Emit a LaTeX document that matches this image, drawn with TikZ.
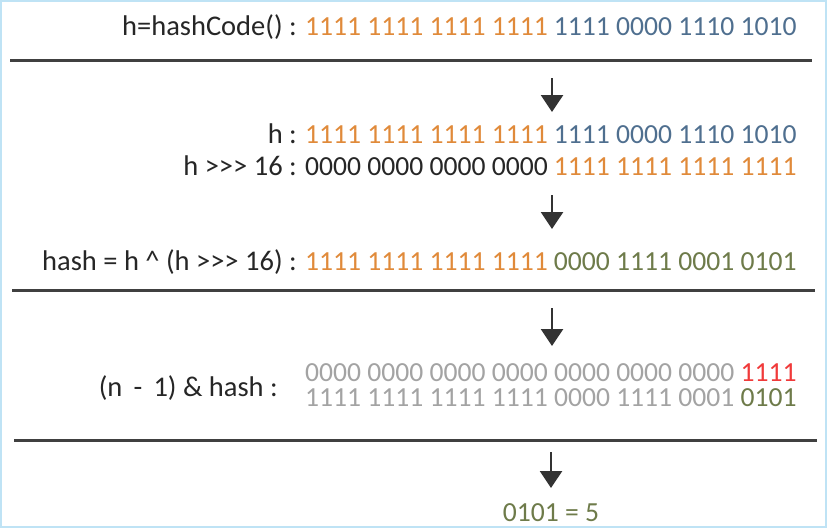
\documentclass[tikz,border=0pt]{standalone}
\usepackage{fontspec}
\setmainfont{Carlito}
\usepackage{xcolor}
\usetikzlibrary{arrows.meta}

\definecolor{hiorange}{HTML}{E08A3A}
\definecolor{loblue}{HTML}{4F6F8F}
\definecolor{xorgreen}{HTML}{6E7B4A}
\definecolor{maskred}{HTML}{F03A3A}
\definecolor{maskgray}{HTML}{A3A3A3}
\definecolor{framebl}{HTML}{BFE3F5}

\newcommand{\bitfont}{\fontsize{27.6}{32}\selectfont}
\newcommand{\lblfont}{\fontsize{28.5}{33}\selectfont}

\tikzset{
    lbl/.style={anchor=base east, inner sep=0pt, font=\lblfont, text=black!85},
    bits/.style={anchor=base west, inner sep=0pt, font=\bitfont},
    rule/.style={line width=3pt, draw=black!75},
    down/.style={-{Triangle[length=17pt,width=22pt]}, line width=2.6pt, draw=black!80}
}

\begin{document}
\begin{tikzpicture}[x=1pt, y=-1pt]
    \useasboundingbox (0,0) rectangle (827,528);
    \draw[framebl, line width=2pt] (1,1) rectangle (826,527);

    % Nodes
    \node[lbl] (hcL) at (297,35) {h=hashCode() :};
    \node[bits] (hcB) at (305,35) {\textcolor{hiorange}{1111 1111 1111 1111} \textcolor{loblue}{1111 0000 1110 1010}};

    \node[lbl] (hL) at (297,143) {h :};
    \node[bits] (hB) at (305,143) {\textcolor{hiorange}{1111 1111 1111 1111} \textcolor{loblue}{1111 0000 1110 1010}};
    \node[lbl] (shL) at (297,175) {h >{}>{}> 16 :};
    \node[bits] (shB) at (305,175) {\textcolor{black!85}{0000 0000 0000 0000} \textcolor{hiorange}{1111 1111 1111 1111}};

    \node[lbl] (xL) at (297,270) {hash = h \^{} (h >{}>{}> 16) :};
    \node[bits] (xB) at (305,270) {\textcolor{hiorange}{1111 1111 1111 1111} \textcolor{xorgreen}{0000 1111 0001 0101}};

    \node[lbl] (mL) at (278,396) {(n \,-\, 1) \& hash :};
    \node[bits] (mB1) at (305,381) {\textcolor{maskgray}{0000 0000 0000 0000 0000 0000 0000} \textcolor{maskred}{1111}};
    \node[bits] (mB2) at (305,406) {\textcolor{maskgray}{1111 1111 1111 1111 0000 1111 0001} \textcolor{xorgreen}{0101}};

    \node[anchor=base, inner sep=0pt, font=\bitfont, text=xorgreen] (res) at (551,521) {0101 = 5};

    % Rules
    \coordinate (r1w) at (10,60);  \coordinate (r1e) at (812,60);
    \coordinate (r2w) at (12,290); \coordinate (r2e) at (815,290);
    \coordinate (r3w) at (14,440); \coordinate (r3e) at (817,440);
    \draw[rule] (r1w) -- (r1e);
    \draw[rule] (r2w) -- (r2e);
    \draw[rule] (r3w) -- (r3e);

    % Arrows
    \coordinate (a1s) at (552,78);  \coordinate (a1e) at (552,112);
    \coordinate (a2s) at (552,195); \coordinate (a2e) at (552,229);
    \coordinate (a3s) at (552,308); \coordinate (a3e) at (552,346);
    \coordinate (a4s) at (551,452); \coordinate (a4e) at (551,488);
    \draw[down] (a1s) -- (a1e);
    \draw[down] (a2s) -- (a2e);
    \draw[down] (a3s) -- (a3e);
    \draw[down] (a4s) -- (a4e);
\end{tikzpicture}
\end{document}
